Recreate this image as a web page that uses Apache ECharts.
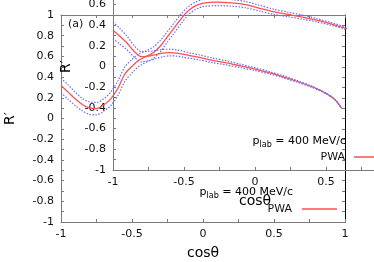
<!DOCTYPE html>
<html><head><meta charset="utf-8">
<script src="https://cdn.jsdelivr.net/npm/echarts@6/dist/echarts.min.js"></script>
<style>html,body{margin:0;padding:0;background:#fff}#c{width:374px;height:262px}</style>
</head><body><div id="c"></div>
<script>
// ---- data ----
// curve drawn on the outer panel (R')
const cosA = [-1,-0.95,-0.9,-0.85,-0.8,-0.75,-0.7,-0.65,-0.6,-0.55,-0.5,-0.45,-0.4,-0.35,-0.3,-0.25,-0.2,-0.15,-0.1,-0.05,0,0.1,0.2,0.3,0.4,0.5,0.6,0.7,0.8,0.9,1.0,1.1,1.2];
const pwaA = [0.32,0.255,0.19,0.135,0.10,0.095,0.13,0.19,0.29,0.43,0.505,0.565,0.60,0.635,0.70,0.79,0.88,0.97,1.045,1.09,1.115,1.125,1.118,1.10,1.065,1.03,1.005,0.98,0.95,0.915,0.874,0.83,0.776];
const pwaAhi = [0.39,0.325,0.255,0.195,0.16,0.155,0.19,0.255,0.36,0.50,0.57,0.625,0.655,0.69,0.755,0.84,0.93,1.015,1.085,1.125,1.15,1.16,1.15,1.13,1.093,1.055,1.027,1.0,0.966,0.928,0.884,0.837,0.781];
const pwaAlo = [0.25,0.185,0.125,0.075,0.04,0.035,0.07,0.125,0.22,0.36,0.44,0.505,0.545,0.58,0.645,0.74,0.83,0.925,1.005,1.055,1.08,1.09,1.086,1.07,1.037,1.005,0.983,0.96,0.934,0.902,0.864,0.823,0.771];
// curve drawn on the inner panel (R)
const cosB = [-1,-0.95,-0.9,-0.85,-0.8,-0.75,-0.7,-0.65,-0.6,-0.55,-0.5,-0.45,-0.4,-0.3,-0.2,-0.1,0,0.1,0.2,0.3,0.4,0.45,0.5,0.55,0.58,0.6,0.613];
const pwaB = [0.35,0.29,0.225,0.145,0.095,0.10,0.115,0.13,0.135,0.13,0.118,0.103,0.09,0.06,0.035,0.005,-0.025,-0.06,-0.1,-0.145,-0.195,-0.225,-0.26,-0.305,-0.345,-0.385,-0.405];
const pwaBhi = [0.43,0.365,0.29,0.20,0.145,0.145,0.155,0.165,0.167,0.16,0.146,0.129,0.115,0.082,0.055,0.022,-0.011,-0.048,-0.09,-0.137,-0.189,-0.22,-0.256,-0.302,-0.343,-0.383,-0.404];
const pwaBlo = [0.27,0.215,0.16,0.09,0.045,0.055,0.075,0.095,0.103,0.10,0.09,0.077,0.065,0.038,0.015,-0.012,-0.039,-0.072,-0.11,-0.153,-0.201,-0.23,-0.264,-0.308,-0.347,-0.387,-0.406];
// axis ticks
const xTicks = [-1,-0.5,0,0.5,1];
const yTicks = [-1,-0.8,-0.6,-0.4,-0.2,0,0.2,0.4,0.6,0.8,1];
const legendTitle = 'p_lab = 400 MeV/c';
const seriesName = 'PWA';

const FONT = 'DejaVu Sans';
const GRAY = '#7a7a7a';
const RED = '#ff4f4f';
const BLUE = '#6a6aff';

function zip(a, b) { return a.map((v, i) => [v, b[i]]); }

function xAx(grid, pos, showLabel, name, lineColor) {
  return {
    type: 'value', gridIndex: grid, position: pos,
    min: xTicks[0], max: xTicks[xTicks.length - 1], interval: xTicks[1] - xTicks[0],
    axisLine: { show: true, onZero: false, lineStyle: { color: lineColor || GRAY, width: 1 } },
    axisTick: { show: true, inside: true, length: 3, lineStyle: { color: GRAY } },
    minorTick: { show: true, splitNumber: 2, length: 3, lineStyle: { color: GRAY } },
    splitLine: { show: false },
    axisLabel: { show: showLabel, fontFamily: FONT, fontSize: 11, color: '#111', margin: 7 },
    name: name || '', nameLocation: 'middle', nameGap: 24,
    nameTextStyle: { fontFamily: FONT, fontSize: 14, color: '#000' }
  };
}
function yAx(grid, pos, showLabel, name, gap, lineColor) {
  return {
    type: 'value', gridIndex: grid, position: pos,
    min: yTicks[0], max: yTicks[yTicks.length - 1], interval: 0.2,
    axisLine: { show: true, onZero: false, lineStyle: { color: lineColor || GRAY, width: 1 } },
    axisTick: { show: true, inside: true, length: 3, lineStyle: { color: GRAY } },
    minorTick: { show: true, splitNumber: 2, length: 3, lineStyle: { color: GRAY } },
    splitLine: { show: false },
    axisLabel: { show: showLabel, fontFamily: FONT, fontSize: 11, color: '#111', margin: 7 },
    name: name || '', nameLocation: 'middle', nameGap: gap || 40,
    nameTextStyle: { fontFamily: FONT, fontSize: 14, color: '#000' }
  };
}
function line(xi, yi, data, color, dotted, z) {
  return {
    type: 'line', name: seriesName, xAxisIndex: xi, yAxisIndex: yi, data: data,
    smooth: 0.3, symbol: 'none', clip: false, z: z,
    lineStyle: { color: color, width: dotted ? 1.2 : 1.3, type: dotted ? [1.5, 1.5] : 'solid' }
  };
}

const chart = echarts.init(document.getElementById('c'), null, { renderer: 'canvas' });
const sub = (t) => '{p|' + t.split('_')[0] + '}{s|' + t.split('_')[1].split(' ')[0] + '}{p|' + t.slice(t.indexOf(' ')) + '}';
const rich = {
  p: { fontFamily: FONT, fontSize: 11, color: '#111', lineHeight: 16, verticalAlign: 'middle' },
  s: { fontFamily: FONT, fontSize: 8, color: '#111', lineHeight: 16, verticalAlign: 'bottom' }
};
chart.setOption({
  animation: false,
  backgroundColor: '#fff',
  grid: [
    { left: 61, top: 15, width: 284, height: 207, containLabel: false, outerBoundsMode: 'none' },
    { left: 113, top: -37, width: 284, height: 207, containLabel: false, outerBoundsMode: 'none' }
  ],
  xAxis: [
    xAx(0, 'bottom', true, 'cosθ'),
    xAx(0, 'top', false),
    xAx(1, 'bottom', true, 'cosθ')
  ],
  yAxis: [
    yAx(0, 'left', true, 'R′', 44),
    yAx(0, 'right', false, '', 40, '#000'),
    yAx(1, 'left', true, 'R′', 40)
  ],
  series: [
    line(0, 0, zip(cosA, pwaA), RED, false, 2),
    line(0, 0, zip(cosA, pwaAhi), BLUE, true, 3),
    line(0, 0, zip(cosA, pwaAlo), BLUE, true, 3),
    line(2, 2, zip(cosB, pwaB), RED, false, 2),
    line(2, 2, zip(cosB, pwaBhi), BLUE, true, 3),
    line(2, 2, zip(cosB, pwaBlo), BLUE, true, 3)
  ],
  graphic: [
    { type: 'text', left: 68, top: 19, style: { text: '(a)', font: '11px "DejaVu Sans"', fill: '#111' } },
    { type: 'text', x: 293, y: 192, style: { text: sub(legendTitle), rich: rich, align: 'right', verticalAlign: 'middle' } },
    { type: 'text', x: 292, y: 209, style: { text: seriesName, font: '11px "DejaVu Sans"', fill: '#111', align: 'right', verticalAlign: 'middle' } },
    { type: 'line', shape: { x1: 302, y1: 209, x2: 337, y2: 209 }, style: { stroke: RED, lineWidth: 1.3 } },
    { type: 'text', x: 346, y: 141, style: { text: sub(legendTitle), rich: rich, align: 'right', verticalAlign: 'middle' } },
    { type: 'text', x: 345, y: 157, style: { text: seriesName, font: '11px "DejaVu Sans"', fill: '#111', align: 'right', verticalAlign: 'middle' } },
    { type: 'line', shape: { x1: 354, y1: 157, x2: 389, y2: 157 }, style: { stroke: RED, lineWidth: 1.3 } }
  ]
});
</script></body></html>
